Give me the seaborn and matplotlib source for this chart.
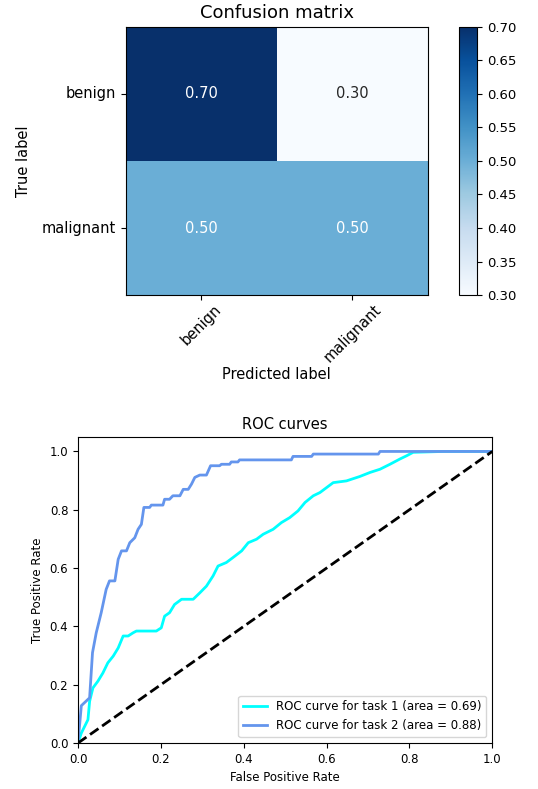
import numpy as np
import pandas as pd
import matplotlib
matplotlib.use("Agg")
import matplotlib.pyplot as plt
import seaborn as sns

# ---- data ----
classes = ["benign", "malignant"]
cm_values = [[0.70, 0.30],
             [0.50, 0.50]]
cbar_ticks = [0.30, 0.35, 0.40, 0.45, 0.50, 0.55, 0.60, 0.65, 0.70]

fpr_task1 = [0.0, 0.008, 0.016, 0.024, 0.028, 0.036, 0.048, 0.060, 0.072, 0.085,
             0.097, 0.109, 0.121, 0.133, 0.141, 0.189, 0.201, 0.209, 0.221, 0.233,
             0.250, 0.278, 0.294, 0.310, 0.326, 0.338, 0.358, 0.374, 0.395, 0.411,
             0.431, 0.447, 0.471, 0.491, 0.511, 0.531, 0.548, 0.568, 0.584, 0.600,
             0.616, 0.648, 0.680, 0.705, 0.729, 0.753, 0.777, 0.793, 0.809, 0.882, 1.0]
tpr_task1 = [0.0, 0.034, 0.057, 0.080, 0.143, 0.189, 0.212, 0.240, 0.275, 0.298,
             0.326, 0.367, 0.367, 0.378, 0.384, 0.384, 0.395, 0.435, 0.447, 0.475,
             0.493, 0.493, 0.515, 0.538, 0.573, 0.607, 0.619, 0.636, 0.659, 0.687,
             0.699, 0.716, 0.733, 0.756, 0.773, 0.796, 0.825, 0.848, 0.859, 0.876,
             0.893, 0.899, 0.914, 0.928, 0.939, 0.956, 0.974, 0.985, 0.997, 1.0, 1.0]

fpr_task2 = [0.0, 0.008, 0.028, 0.035, 0.044, 0.056, 0.068, 0.076, 0.089, 0.097,
             0.105, 0.117, 0.125, 0.137, 0.145, 0.153, 0.159, 0.173, 0.177, 0.205,
             0.209, 0.221, 0.229, 0.246, 0.254, 0.266, 0.274, 0.282, 0.294, 0.310,
             0.320, 0.342, 0.346, 0.366, 0.370, 0.386, 0.390, 0.515, 0.519, 0.564,
             0.568, 0.725, 0.729, 1.0]
tpr_task2 = [0.0, 0.128, 0.155, 0.310, 0.378, 0.447, 0.527, 0.556, 0.556, 0.630,
             0.659, 0.659, 0.687, 0.704, 0.733, 0.750, 0.808, 0.808, 0.816, 0.816,
             0.836, 0.836, 0.848, 0.848, 0.870, 0.870, 0.888, 0.911, 0.919, 0.919,
             0.951, 0.951, 0.956, 0.956, 0.964, 0.964, 0.971, 0.971, 0.983, 0.983,
             0.991, 0.991, 1.0, 1.0]

labels = ["ROC curve for task 1 (area = 0.69)", "ROC curve for task 2 (area = 0.88)"]
colors = ["aqua", "cornflowerblue"]

# ---- figure ----
plt.rcParams["font.family"] = ["DejaVu Sans"]
fig = plt.figure(figsize=(5.38, 7.89), dpi=100)

ax1 = fig.add_axes([0.234, 0.626, 0.561, 0.340])
cax = fig.add_axes([0.853, 0.626, 0.0335, 0.340])

cm_df = pd.DataFrame(cm_values, index=classes, columns=classes)
sns.heatmap(cm_df, ax=ax1, cbar_ax=cax, cmap="Blues", vmin=0.3, vmax=0.7,
            annot=True, fmt=".2f", annot_kws={"fontsize": 10.5},
            cbar_kws={"ticks": cbar_ticks})
for s in ax1.spines.values():
    s.set_visible(True)
    s.set_linewidth(0.8)
    s.set_color("black")
ax1.tick_params(axis="both", length=3.5, width=0.8, labelsize=10.5)
ax1.tick_params(axis="x", pad=1.5)
ax1.set_xticklabels(classes, rotation=45, ha="center")
ax1.set_yticklabels(classes, rotation=0, va="center")
ax1.set_title("Confusion matrix", fontsize=13)
ax1.set_xlabel("Predicted label", fontsize=10.5, labelpad=1)
ax1.set_ylabel("True label", fontsize=10.5, labelpad=8)
cb = ax1.collections[0].colorbar
cb.outline.set_linewidth(0.8)
cb.outline.set_edgecolor("black")
cax.tick_params(labelsize=9.5, length=3.5, width=0.8)
cax.set_yticklabels([f"{t:.2f}" for t in cbar_ticks])

ax2 = fig.add_axes([0.145, 0.0583, 0.770, 0.388])
for fpr, tpr, lab, col in zip([fpr_task1, fpr_task2], [tpr_task1, tpr_task2], labels, colors):
    d = pd.DataFrame({"fpr": fpr, "tpr": tpr})
    sns.lineplot(data=d, x="fpr", y="tpr", ax=ax2, color=col, lw=2, label=lab,
                 estimator=None, sort=False)
sns.lineplot(x=[0, 1], y=[0, 1], ax=ax2, color="black", lw=2, linestyle="--")
ax2.set_xlim(0.0, 1.0)
ax2.set_ylim(0.0, 1.05)
ax2.set_xticks([0.0, 0.2, 0.4, 0.6, 0.8, 1.0])
ax2.set_yticks([0.0, 0.2, 0.4, 0.6, 0.8, 1.0])
ax2.tick_params(labelsize=8.5, length=3.5, width=0.8)
ax2.set_xlabel("False Positive Rate", fontsize=8.5)
ax2.set_ylabel("True Positive Rate", fontsize=8.5)
ax2.set_title("ROC curves", fontsize=10.5)
ax2.legend(loc="lower right", fontsize=8.5)

fig.savefig("out.png", dpi=100)
